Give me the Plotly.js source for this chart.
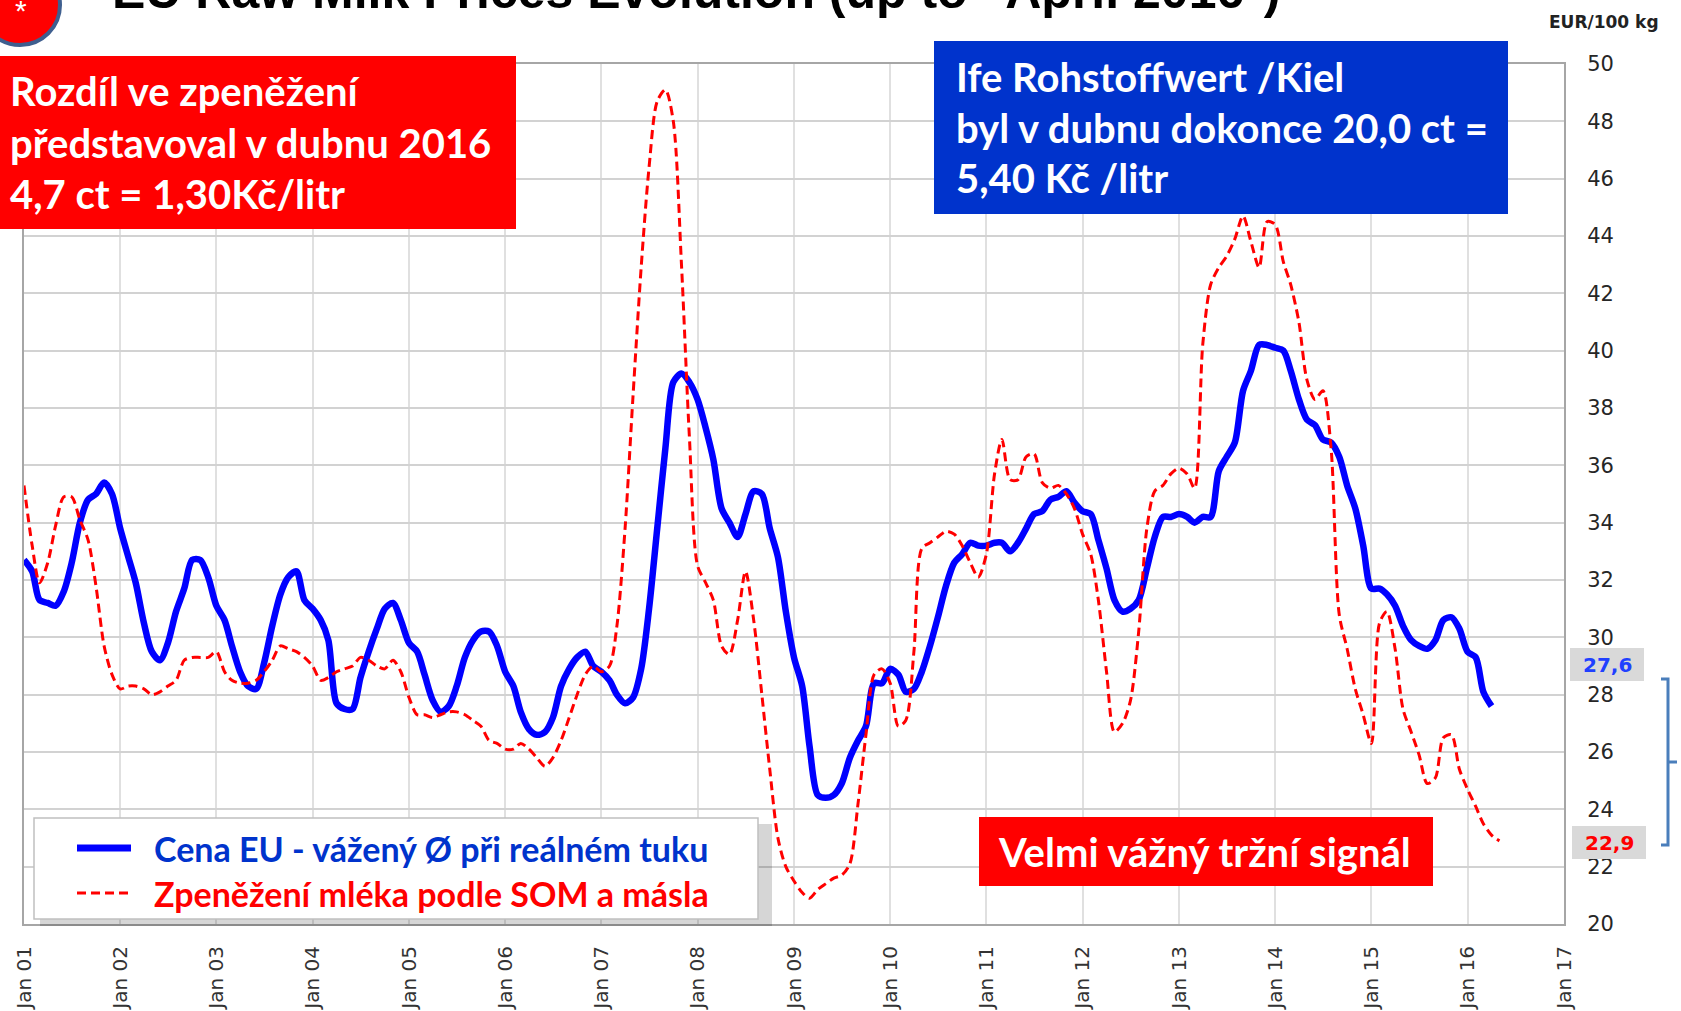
<!DOCTYPE html>
<html>
<head>
<meta charset="utf-8">
<script src="https://cdn.plot.ly/plotly-3.0.1.min.js"></script>
<style>
  html, body { margin: 0; padding: 0; background: #fff; }
  #chart { width: 1681px; height: 1011px; }
</style>
</head>
<body>
<div id="chart"></div>
<script>
// monthly values, Jan 2001 onwards (EUR/100 kg)
var euPrice = [
  32.7, 32.3, 31.3, 31.2, 31.1, 31.6, 32.6, 34.0, 34.8, 35.0, 35.4, 35.0, // 2001
  33.8, 32.8, 31.9, 30.5, 29.5, 29.2, 29.8, 30.9, 31.7, 32.7, 32.7, 32.1, // 2002
  31.1, 30.6, 29.7, 28.8, 28.3, 28.2, 29.1, 30.4, 31.5, 32.1, 32.3, 31.3, // 2003
  31.0, 30.6, 29.9, 27.7, 27.5, 27.5, 28.6, 29.5, 30.3, 31.0, 31.2, 30.6, // 2004
  29.8, 29.5, 28.7, 27.8, 27.4, 27.6, 28.3, 29.3, 29.9, 30.2, 30.2, 29.7, // 2005
  28.8, 28.3, 27.4, 26.8, 26.6, 26.7, 27.2, 28.3, 28.9, 29.3, 29.5, 29.0, // 2006
  28.8, 28.5, 28.0, 27.7, 27.9, 28.9, 31.0, 33.8, 36.6, 38.9, 39.2, 38.9, // 2007
  38.3, 37.3, 36.2, 34.5, 34.0, 33.5, 34.3, 35.1, 35.0, 33.8, 32.8, 30.9, // 2008
  29.3, 28.3, 26.2, 24.5, 24.4, 24.5, 24.9, 25.8, 26.4, 26.9, 28.4, 28.4, // 2009
  28.9, 28.7, 28.1, 28.2, 28.8, 29.7, 30.7, 31.8, 32.6, 32.9, 33.3, 33.2, // 2010
  33.2, 33.3, 33.3, 33.0, 33.3, 33.8, 34.3, 34.4, 34.8, 34.9, 35.1, 34.7, // 2011
  34.4, 34.3, 33.4, 32.4, 31.3, 30.9, 31.0, 31.3, 32.4, 33.5, 34.2, 34.2, // 2012
  34.3, 34.2, 34.0, 34.2, 34.2, 35.8, 36.3, 36.8, 38.6, 39.3, 40.2, 40.2, // 2013
  40.1, 40.0, 39.3, 38.3, 37.6, 37.4, 36.9, 36.8, 36.3, 35.3, 34.5, 33.2, // 2014
  31.7, 31.7, 31.5, 31.1, 30.4, 29.9, 29.7, 29.6, 29.9, 30.6, 30.7, 30.3, // 2015
  29.5, 29.3, 28.1, 27.6                                                  // 2016
];

var somButter = [
  35.3, 33.2, 31.9, 32.6, 33.9, 34.9, 34.9, 34.1, 33.4, 31.8, 29.7, 28.7,
  28.2, 28.3, 28.3, 28.2, 28.0, 28.1, 28.3, 28.5, 29.2, 29.3, 29.3, 29.3,
  29.5, 28.8, 28.5, 28.4, 28.4, 28.5, 28.8, 29.2, 29.7, 29.6, 29.5, 29.3,
  29.0, 28.5, 28.6, 28.8, 28.9, 29.0, 29.3, 29.2, 29.0, 28.9, 29.2, 28.8,
  27.9, 27.3, 27.3, 27.2, 27.3, 27.4, 27.4, 27.3, 27.1, 26.9, 26.4, 26.3,
  26.1, 26.1, 26.3, 26.1, 25.8, 25.5, 25.8, 26.4, 27.2, 28.0, 28.7, 29.0,
  28.8, 29.0, 30.4, 33.8, 38.4, 42.9, 46.4, 48.7, 49.1, 48.0, 43.0, 37.0,
  32.5, 31.9, 31.3, 29.7, 29.4, 30.6, 32.3, 30.6, 28.0, 25.4, 23.0, 22.0,
  21.5, 21.1, 20.9, 21.2, 21.4, 21.6, 21.7, 22.1, 24.2, 26.6, 28.7, 28.9,
  28.4, 26.9, 27.1, 29.5, 33.1, 33.3, 33.5, 33.7, 33.6, 33.2, 32.6, 32.1,
  32.9, 35.7, 36.9, 35.5, 35.5, 36.3, 36.4, 35.4, 35.2, 35.3, 35.0, 34.5,
  33.6, 32.9, 31.3, 28.8, 26.7, 27.0, 27.8, 30.2, 33.8, 35.1, 35.3, 35.7,
  35.9, 35.7, 35.2, 40.2, 42.3, 42.9, 43.3, 43.9, 44.7, 43.8, 42.9, 44.5,
  44.4, 43.1, 42.3, 41.0, 39.0, 38.3, 38.6, 36.6, 30.8, 29.6, 28.2, 27.3,
  26.3, 30.5, 30.9, 29.6, 27.5, 26.7, 25.9, 24.9, 25.1, 26.5, 26.6, 25.4,
  24.7, 24.1, 23.5, 23.1, 22.9
];

var seriesNames = ['Cena EU - vážený Ø při reálném tuku', 'Zpeněžení mléka podle SOM a másla'];
var lastLabels = ['27,6', '22,9'];
var yTicks = [20, 22, 24, 26, 28, 30, 32, 34, 36, 38, 40, 42, 44, 46, 48, 50];

function monthDates(n) {
  var out = [];
  for (var i = 0; i < n; i++) {
    var y = 2001 + Math.floor(i / 12), m = (i % 12) + 1;
    out.push(y + '-' + (m < 10 ? '0' + m : m) + '-01');
  }
  return out;
}

// plot area in pixels
var L = 24, R = 1564, T = 64, B = 924;
function px(x) { return (x - L) / (R - L); }
function py(y) { return (B - y) / (B - T); }

var BLUE = '#0000ff', RED = '#ff0000', BOXBLUE = '#0033cc';
var boxFont = {family: 'Lato', size: 40, color: 'white', weight: 'bold'};
var DASH = '9px,5px';

var traces = [
  {
    x: monthDates(euPrice.length), y: euPrice, name: seriesNames[0],
    type: 'scatter', mode: 'lines',
    line: {color: BLUE, width: 6.5, shape: 'spline', smoothing: 0.8},
  },
  {
    x: monthDates(somButter.length), y: somButter, name: seriesNames[1],
    type: 'scatter', mode: 'lines',
    line: {color: RED, width: 3, dash: DASH, shape: 'spline', smoothing: 0.8},
  }
];

function rect(x0, y0, x1, y1, fill, line) {
  return {type: 'rect', xref: 'paper', yref: 'paper', layer: 'above',
    x0: px(x0), x1: px(x1), y0: py(y1), y1: py(y0),
    fillcolor: fill, line: line || {width: 0}};
}
function note(text, x, y, font, xanchor) {
  return {text: text, xref: 'paper', yref: 'paper', x: px(x), y: py(y),
    xanchor: xanchor || 'left', yanchor: 'middle', showarrow: false, font: font};
}

var shapes = [
  rect(0, 56, 516, 229, RED),
  rect(934, 41, 1508, 214, BOXBLUE),
  rect(979, 817, 1433, 886, RED),
  // legend box with shadow
  rect(40, 824, 772, 926, 'rgba(0,0,0,0.16)'),
  rect(34, 818, 758, 919, 'white', {color: '#c0c0c0', width: 1.5}),
  {type: 'line', xref: 'paper', yref: 'paper', layer: 'above',
    x0: px(77), x1: px(131), y0: py(848), y1: py(848), line: {color: BLUE, width: 7}},
  {type: 'line', xref: 'paper', yref: 'paper', layer: 'above',
    x0: px(77), x1: px(131), y0: py(893), y1: py(893), line: {color: RED, width: 3, dash: DASH}},
  // last value labels
  rect(1570, 648, 1644, 681, '#d9d9d9'),
  rect(1572, 826, 1646, 859, '#d9d9d9'),
  // bracket
  {type: 'path', xref: 'paper', yref: 'paper', layer: 'above',
    path: 'M' + px(1661) + ',' + py(679) + ' L' + px(1668) + ',' + py(679) +
          ' L' + px(1668) + ',' + py(845) + ' L' + px(1661) + ',' + py(845) +
          ' M' + px(1668) + ',' + py(762) + ' L' + px(1677) + ',' + py(762),
    line: {color: '#4a7ebb', width: 3}},
  // red badge top left
  {type: 'circle', xref: 'paper', yref: 'paper', layer: 'above',
    x0: px(-20), x1: px(60), y0: py(45), y1: py(-35),
    fillcolor: RED, line: {color: '#3f5f8f', width: 4}}
];

var annotations = [
  note('EU Raw Milk Prices Evolution (up to "April 2016*)', 110, -9,
       {family: 'Liberation Sans', size: 50, color: '#000', weight: 'bold'}),
  note('*', 21, 11, {family: 'Liberation Sans', size: 30, color: 'white'}, 'center'),
  note('Rozdíl ve zpeněžení', 8, 91, boxFont),
  note('představoval v dubnu 2016', 8, 143, boxFont),
  note('4,7 ct = 1,30Kč/litr', 8, 194, boxFont),
  note('Ife Rohstoffwert /Kiel', 954, 77, boxFont),
  note('byl v dubnu dokonce 20,0 ct =', 954, 128, boxFont),
  note('5,40 Kč /litr', 954, 178, boxFont),
  note('Velmi vážný tržní signál', 1204, 852, boxFont, 'center'),
  note(seriesNames[0], 152, 848, {family: 'Lato', size: 34, color: BOXBLUE, weight: 'bold'}),
  note(seriesNames[1], 152, 893, {family: 'Lato', size: 34, color: RED, weight: 'bold'}),
  note('EUR/100 kg', 1604, 22, {family: 'DejaVu Sans', size: 17, color: '#222', weight: 'bold'}, 'center'),
  note(lastLabels[0], 1607, 665, {family: 'DejaVu Sans', size: 20, color: '#2040ff', weight: 'bold'}, 'center'),
  note(lastLabels[1], 1609, 843, {family: 'DejaVu Sans', size: 20, color: RED, weight: 'bold'}, 'center')
];

var layout = {
  width: 1681, height: 1011,
  margin: {l: L, r: 1681 - R, t: T, b: 1011 - B},
  paper_bgcolor: 'white', plot_bgcolor: 'white',
  showlegend: false,
  xaxis: {
    type: 'date',
    range: ['2001-01-01', '2017-01-01'],
    tick0: '2001-01-01', dtick: 'M12',
    tickformat: '%b %y', tickangle: -90,
    ticks: '', ticklabelstandoff: 12,
    tickfont: {family: 'DejaVu Sans', size: 20, color: '#333'},
    showgrid: true, gridcolor: '#e0e0e0', gridwidth: 2,
    showline: true, mirror: true, linecolor: '#a6a6a6', linewidth: 2,
    zeroline: false
  },
  yaxis: {
    side: 'right',
    range: [20, 50],
    tickvals: yTicks,
    ticks: '', ticklabelstandoff: 17,
    tickfont: {family: 'DejaVu Sans', size: 21, color: '#262626'},
    showgrid: true, gridcolor: '#d2d2d2', gridwidth: 2,
    showline: true, mirror: true, linecolor: '#a6a6a6', linewidth: 2,
    zeroline: false
  },
  shapes: shapes,
  annotations: annotations
};

Plotly.newPlot('chart', traces, layout, {displayModeBar: false, staticPlot: true});
</script>
</body>
</html>
